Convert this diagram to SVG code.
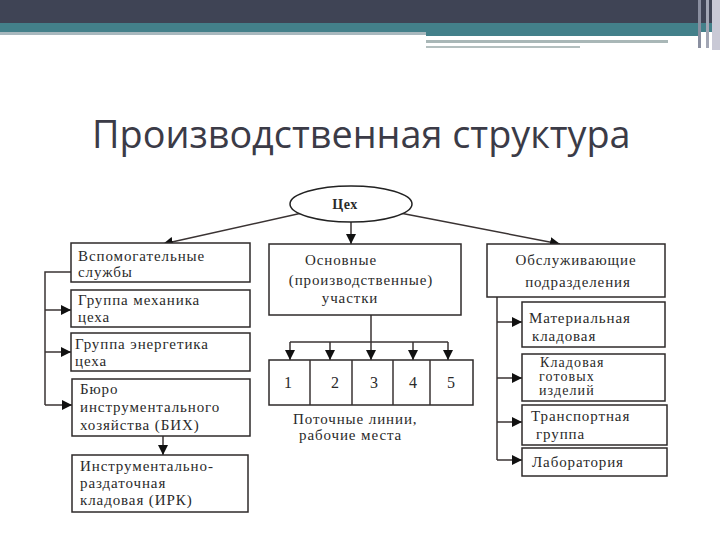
<svg xmlns="http://www.w3.org/2000/svg" width="720" height="540" viewBox="0 0 720 540">
<defs>
<marker id="ah" viewBox="0 0 10 10" refX="10" refY="5" markerWidth="10" markerHeight="10" markerUnits="userSpaceOnUse" orient="auto">
<path d="M0,0 L10,5 L0,10 Z" fill="#111"/>
</marker>
</defs>
<style>
.box{fill:#fff;stroke:#2e2a2a;stroke-width:1.5}
.ln{fill:none;stroke:#3a3333;stroke-width:1.5}
.t{font-family:"Liberation Serif","Times New Roman",serif;font-size:15px;letter-spacing:0.9px;fill:#2a2a2a}
.s{font-size:14px;letter-spacing:1.1px}
.n{font-size:16px;letter-spacing:0}
.title{font-family:"Open Sans","Noto Sans",sans-serif;font-size:37.8px;fill:#3b3b47}
</style>
<rect width="720" height="540" fill="#fff"/>
<g id="header">
<rect x="0" y="0" width="720" height="23" fill="#3f4455"/>
<rect x="0" y="23" width="720" height="9" fill="#43808a"/>
<rect x="0" y="32" width="426" height="3" fill="#a8b8be"/>
<rect x="426" y="32" width="275" height="4" fill="#43808a"/>
<rect x="426" y="40" width="242" height="3" fill="#a9b7b7"/>
<rect x="426" y="46" width="154" height="2" fill="#b3bfbf"/>
<rect x="698" y="0" width="3" height="48" fill="#8a8fa0"/>
<rect x="706" y="0" width="3" height="48" fill="#a2a6b4"/>
<rect x="712" y="0" width="8" height="50" fill="#c9c9d6"/>
</g>
<text class="title" x="92" y="148">Производственная структура</text>
<g id="connectors">
<line class="ln" x1="302" y1="213" x2="163" y2="244" marker-end="url(#ah)"/>
<line class="ln" x1="400" y1="213" x2="560" y2="244" marker-end="url(#ah)"/>
<line class="ln" x1="351" y1="222" x2="351" y2="244" marker-end="url(#ah)"/>
<polyline class="ln" points="71,272 45,272 45,405"/>
<line class="ln" x1="45" y1="310" x2="71" y2="310" marker-end="url(#ah)"/>
<line class="ln" x1="45" y1="352" x2="71" y2="352" marker-end="url(#ah)"/>
<line class="ln" x1="45" y1="405" x2="72" y2="405" marker-end="url(#ah)"/>
<line class="ln" x1="163" y1="436" x2="163" y2="455" marker-end="url(#ah)"/>
<line class="ln" x1="371" y1="315" x2="371" y2="360" marker-end="url(#ah)"/>
<line class="ln" x1="290" y1="342" x2="448" y2="342"/>
<line class="ln" x1="290" y1="342" x2="290" y2="360" marker-end="url(#ah)"/>
<line class="ln" x1="330" y1="342" x2="330" y2="360" marker-end="url(#ah)"/>
<line class="ln" x1="413" y1="342" x2="413" y2="360" marker-end="url(#ah)"/>
<line class="ln" x1="448" y1="342" x2="448" y2="360" marker-end="url(#ah)"/>
<line class="ln" x1="497" y1="297" x2="497" y2="460"/>
<line class="ln" x1="497" y1="322" x2="522" y2="322" marker-end="url(#ah)"/>
<line class="ln" x1="497" y1="378" x2="522" y2="378" marker-end="url(#ah)"/>
<line class="ln" x1="497" y1="422" x2="522" y2="422" marker-end="url(#ah)"/>
<line class="ln" x1="497" y1="460" x2="522" y2="460" marker-end="url(#ah)"/>
</g>
<g id="tsekh">
<ellipse cx="351" cy="204" rx="61" ry="18" fill="#fff" stroke="#222" stroke-width="1.5"/>
<text class="t" x="345" y="209" text-anchor="middle" font-weight="bold" style="font-size:14px;letter-spacing:0.5px">Цех</text>
</g>
<g id="vspom">
<rect class="box" x="71" y="243" width="179" height="39"/>
<text class="t" x="78" y="261">Вспомогательные</text>
<text class="t" x="78" y="277">службы</text>
</g>
<g id="mekh">
<rect class="box" x="71" y="290" width="179" height="37"/>
<text class="t" x="78" y="305">Группа механика</text>
<text class="t" x="78" y="322">цеха</text>
</g>
<g id="energ">
<rect class="box" x="71" y="333" width="179" height="38"/>
<text class="t" x="75" y="349">Группа энергетика</text>
<text class="t" x="75" y="366">цеха</text>
</g>
<g id="bih">
<rect class="box" x="72" y="379" width="178" height="57"/>
<text class="t" x="80" y="394">Бюро</text>
<text class="t" x="80" y="412">инструментального</text>
<text class="t" x="80" y="430">хозяйства  (БИХ)</text>
</g>
<g id="irk">
<rect class="box" x="72" y="455" width="176" height="57"/>
<text class="t" x="80" y="471">Инструментально-</text>
<text class="t" x="80" y="488">раздаточная</text>
<text class="t" x="80" y="505">кладовая (ИРК)</text>
</g>
<g id="osnov">
<rect class="box" x="269" y="244" width="192" height="71"/>
<text class="t" x="341" y="265" text-anchor="middle">Основные</text>
<text class="t" x="361" y="285" text-anchor="middle">(производственные)</text>
<text class="t" x="350" y="303" text-anchor="middle">участки</text>
</g>
<g id="cells">
<rect class="box" x="269" y="360" width="204" height="45"/>
<line class="ln" x1="310" y1="360" x2="310" y2="405"/>
<line class="ln" x1="352" y1="360" x2="352" y2="405"/>
<line class="ln" x1="393" y1="360" x2="393" y2="405"/>
<line class="ln" x1="430" y1="360" x2="430" y2="405"/>
<text class="t n" x="288" y="388" text-anchor="middle">1</text>
<text class="t n" x="335" y="388" text-anchor="middle">2</text>
<text class="t n" x="374" y="388" text-anchor="middle">3</text>
<text class="t n" x="413" y="388" text-anchor="middle">4</text>
<text class="t n" x="451" y="388" text-anchor="middle">5</text>
<text class="t" x="293" y="424">Поточные линии,</text>
<text class="t" x="299" y="440">рабочие места</text>
</g>
<g id="obsl">
<rect class="box" x="487" y="244" width="178" height="53"/>
<text class="t" x="576" y="265" text-anchor="middle">Обслуживающие</text>
<text class="t" x="578" y="287" text-anchor="middle">подразделения</text>
</g>
<g id="mat">
<rect class="box" x="522" y="302" width="143" height="45"/>
<text class="t" x="529" y="323">Материальная</text>
<text class="t" x="532" y="341">кладовая</text>
</g>
<g id="gotov">
<rect class="box" x="522" y="354" width="143" height="47"/>
<text class="t s" x="540" y="367">Кладовая</text>
<text class="t s" x="539" y="381">готовых</text>
<text class="t s" x="539" y="395">изделий</text>
</g>
<g id="transp">
<rect class="box" x="522" y="405" width="145" height="40"/>
<text class="t" x="531" y="421">Транспортная</text>
<text class="t" x="536" y="439">группа</text>
</g>
<g id="lab">
<rect class="box" x="522" y="448" width="145" height="28"/>
<text class="t" x="532" y="467">Лаборатория</text>
</g>
</svg>
